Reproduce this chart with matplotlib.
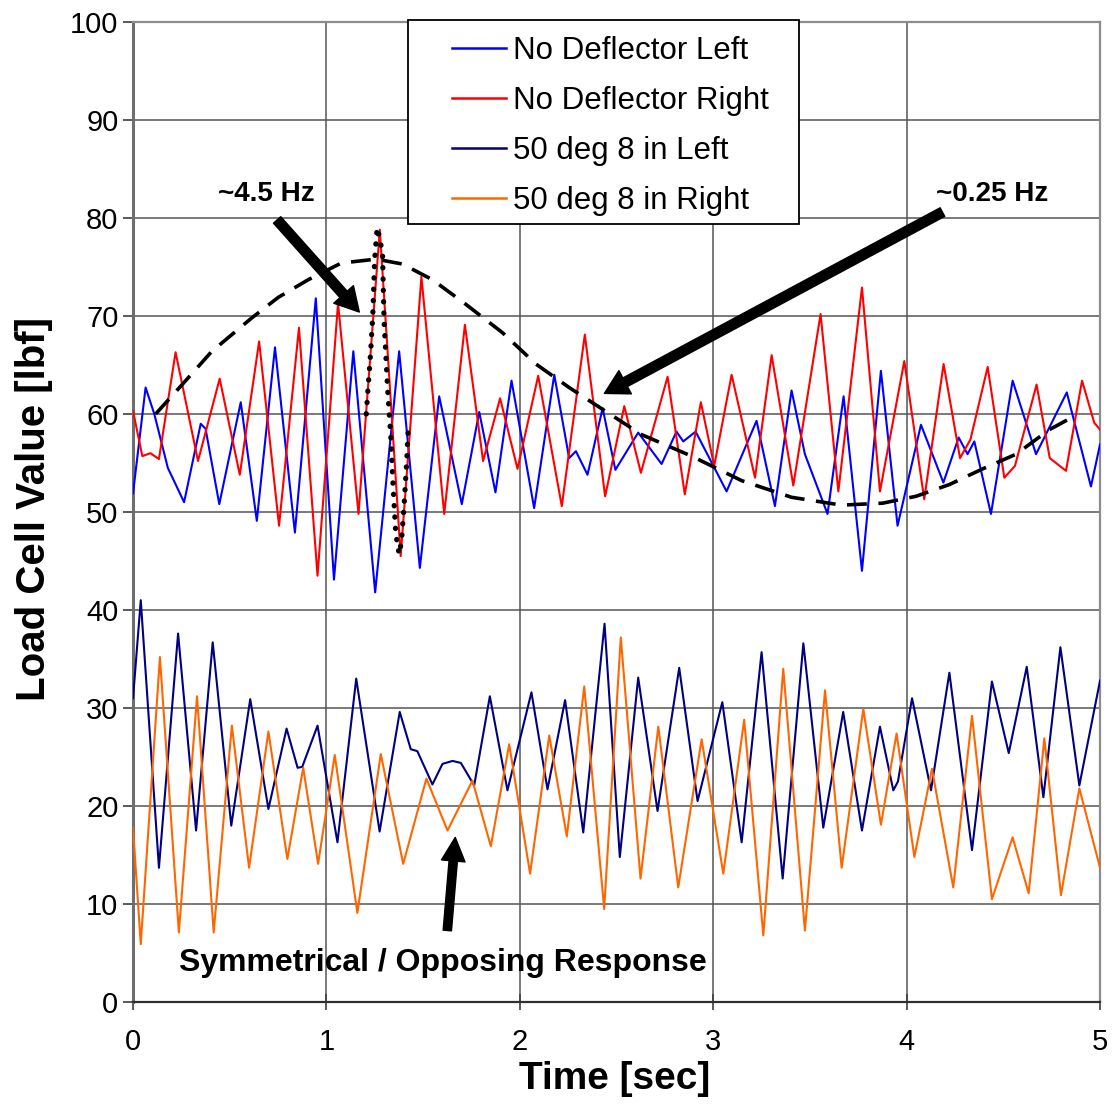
import numpy as np
import matplotlib
matplotlib.use("Agg")
from matplotlib import pyplot as plt
from matplotlib import font_manager
from matplotlib.patches import Rectangle

# load cell traces: time [s] and load [lbf] read at the turning points
t_nd_left = [0.0, 0.065, 0.11, 0.18, 0.264, 0.35, 0.375, 0.446, 0.557, 0.64, 0.734,
             0.837, 0.945, 1.039, 1.139, 1.252, 1.376, 1.483, 1.583, 1.70, 1.79,
             1.874, 1.957, 2.074, 2.178, 2.255, 2.29, 2.35, 2.428, 2.494, 2.612,
             2.733, 2.81, 2.845, 2.909, 3.069, 3.224, 3.319, 3.405, 3.474, 3.591,
             3.674, 3.769, 3.867, 3.953, 4.074, 4.19, 4.269, 4.315, 4.35, 4.436,
             4.548, 4.669, 4.755, 4.828, 4.953, 5.0]
v_nd_left = [51.9, 62.7, 60.0, 54.5, 51.0, 59.0, 58.5, 50.8, 61.2, 49.1, 66.8,
             47.9, 71.8, 43.1, 66.4, 41.8, 66.4, 44.3, 61.8, 50.8, 60.2,
             52.0, 63.4, 50.4, 64.0, 55.5, 56.2, 53.8, 60.6, 54.3, 58.1,
             54.9, 58.2, 57.2, 58.2, 52.1, 59.3, 50.6, 62.4, 55.9, 49.8,
             61.8, 44.0, 64.4, 48.6, 58.9, 53.0, 57.6, 55.9, 57.2, 49.8,
             63.4, 55.9, 59.3, 62.2, 52.6, 56.9]

t_nd_right = [0.0, 0.048, 0.09, 0.134, 0.22, 0.336, 0.448, 0.552, 0.652, 0.755,
              0.858, 0.954, 1.06, 1.166, 1.276, 1.384, 1.491, 1.609, 1.716, 1.81,
              1.898, 1.988, 2.095, 2.217, 2.336, 2.441, 2.54, 2.626, 2.764, 2.853,
              2.936, 3.005, 3.095, 3.216, 3.302, 3.414, 3.555, 3.647, 3.769, 3.862,
              3.988, 4.091, 4.191, 4.276, 4.33, 4.419, 4.505, 4.56, 4.672, 4.74,
              4.824, 4.907, 4.97, 5.0]
v_nd_right = [60.3, 55.7, 56.0, 55.4, 66.3, 55.2, 63.6, 53.8, 67.4, 48.6,
              68.8, 43.5, 71.3, 49.8, 78.8, 45.5, 74.0, 49.8, 69.1, 55.2,
              61.6, 54.4, 63.9, 50.6, 68.1, 51.6, 60.8, 54.0, 63.8, 51.8,
              61.2, 54.7, 64.0, 53.5, 66.0, 52.7, 70.2, 52.1, 72.9, 52.1,
              65.4, 51.3, 65.1, 55.5, 57.4, 64.8, 53.5, 54.7, 63.0, 55.5,
              54.2, 63.4, 59.1, 58.4]

t_50_left = [0.0, 0.04, 0.134, 0.233, 0.326, 0.412, 0.508, 0.606, 0.70, 0.794,
             0.851, 0.875, 0.954, 1.057, 1.154, 1.275, 1.379, 1.436, 1.47, 1.548,
             1.60, 1.652, 1.695, 1.764, 1.845, 1.936, 2.06, 2.143, 2.234, 2.328,
             2.438, 2.517, 2.612, 2.712, 2.824, 2.919, 3.047, 3.147, 3.25, 3.359,
             3.466, 3.569, 3.672, 3.769, 3.862, 3.931, 3.955, 4.028, 4.126, 4.221,
             4.338, 4.441, 4.528, 4.621, 4.707, 4.795, 4.893, 5.0]
v_50_left = [31.0, 41.0, 13.7, 37.6, 17.5, 36.7, 18.0, 30.9, 19.7, 27.9,
             23.9, 24.0, 28.2, 16.3, 33.0, 17.4, 29.6, 25.8, 25.6, 22.2,
             24.3, 24.6, 24.4, 22.1, 31.2, 21.6, 31.6, 21.7, 30.8, 17.3,
             38.6, 14.8, 33.1, 19.5, 34.1, 20.5, 30.6, 16.3, 35.7, 12.6,
             36.6, 17.8, 29.6, 17.5, 28.1, 21.6, 22.5, 31.0, 21.6, 33.6,
             15.5, 32.7, 25.4, 34.2, 20.9, 36.2, 22.1, 32.8]

t_50_right = [0.0, 0.04, 0.139, 0.237, 0.331, 0.417, 0.511, 0.60, 0.70, 0.798,
              0.88, 0.957, 1.043, 1.16, 1.281, 1.397, 1.517, 1.626, 1.755, 1.85,
              1.945, 2.053, 2.152, 2.243, 2.333, 2.436, 2.522, 2.624, 2.716, 2.819,
              2.94, 3.052, 3.16, 3.259, 3.362, 3.474, 3.578, 3.664, 3.776, 3.867,
              3.948, 4.04, 4.131, 4.241, 4.338, 4.441, 4.548, 4.631, 4.712, 4.798,
              4.893, 5.0]
v_50_right = [17.8, 5.9, 35.2, 7.1, 31.2, 7.1, 28.2, 13.7, 27.6, 14.6,
              23.9, 14.1, 25.2, 9.1, 25.3, 14.1, 22.8, 17.5, 22.6, 15.9,
              26.3, 13.1, 27.2, 16.9, 32.2, 9.5, 37.2, 12.6, 28.1, 11.7,
              26.8, 13.1, 28.8, 6.8, 34.0, 7.3, 31.8, 13.7, 29.9, 18.1,
              27.4, 14.8, 23.8, 11.7, 29.2, 10.5, 16.8, 11.1, 26.9, 10.9,
              21.8, 13.7]

# slow (~0.25 Hz) envelope sketched over the no-deflector traces
t_slow = [0.117, 0.254, 0.408, 0.614, 0.751, 0.906, 1.077, 1.257, 1.393, 1.548,
          1.72, 1.91, 2.083, 2.255, 2.457, 2.629, 2.888, 3.147, 3.405, 3.664,
          3.876, 4.048, 4.221, 4.393, 4.566, 4.738, 4.85]
v_slow = [60.0, 63.0, 66.4, 69.8, 71.9, 73.7, 75.4, 75.8, 75.3, 73.7,
          71.2, 68.3, 65.1, 62.7, 60.1, 57.9, 55.7, 53.2, 51.5, 50.7,
          50.9, 51.6, 52.8, 54.4, 55.9, 58.4, 59.6]

# one fast (~4.5 Hz) cycle traced around the largest peak
t_fast = [1.206, 1.214, 1.228, 1.24, 1.249, 1.262, 1.275, 1.29, 1.298, 1.316,
          1.333, 1.345, 1.359, 1.376, 1.388, 1.402, 1.416, 1.424]
v_fast = [60.0, 62.3, 66.1, 70.2, 75.6, 79.0, 78.0, 76.3, 69.5, 62.7,
          57.6, 52.5, 47.7, 45.7, 47.0, 50.8, 55.5, 59.1]

series = [
    (t_nd_left, v_nd_left, "#0000ff", "No Deflector Left"),
    (t_nd_right, v_nd_right, "#ff0000", "No Deflector Right"),
    (t_50_left, v_50_left, "#000080", "50 deg 8 in Left"),
    (t_50_right, v_50_right, "#ff6600", "50 deg 8 in Right"),
]

names = {f.name for f in font_manager.fontManager.ttflist}
base_font = "Liberation Sans" if "Liberation Sans" in names else "DejaVu Sans"
narrow = "Liberation Sans Narrow" in names
label_font = "Liberation Sans Narrow" if narrow else base_font

plt.rcParams["font.family"] = [base_font, "DejaVu Sans"]

fig = plt.figure(figsize=(11.16, 11.14), dpi=100)
ax = fig.add_axes([0.1192, 0.1005, 0.8665, 0.8798])

for t, v, c, name in series:
    ax.plot(t, v, color=c, lw=1.5, label=name, zorder=3)

ax.plot(t_slow, v_slow, color="black", lw=2.6, dashes=(5.5, 3.2), zorder=4)
ax.plot(t_fast, v_fast, color="black", lw=3.8, dashes=(0.05, 2.1),
        dash_capstyle="round", zorder=4)

ax.set_xlim(0, 5)
ax.set_ylim(0, 100)
ax.set_xticks(np.arange(0, 6, 1))
ax.set_yticks(np.arange(0, 101, 10))
ax.grid(True, color="#555555", lw=1.1, zorder=0)
ax.set_axisbelow(True)

for side in ["top", "right"]:
    ax.spines[side].set_color("#8c8c8c")
    ax.spines[side].set_linewidth(1.6)
ax.spines["left"].set_color("#6e6e6e")
ax.spines["left"].set_linewidth(2.2)
ax.spines["bottom"].set_color("#303030")
ax.spines["bottom"].set_linewidth(1.6)

ax.tick_params(axis="y", direction="out", length=7, width=1.2, color="#404040",
               labelsize=21, pad=3.5)
ax.tick_params(axis="x", direction="inout", length=11, width=1.2, color="#404040",
               labelsize=21, pad=13)

if narrow:
    ax.set_xlabel("Time [sec]", fontsize=34, fontweight="bold", family=label_font)
    ax.set_ylabel("Load Cell Value [lbf]", fontsize=35, fontweight="bold",
                  family=label_font)
else:
    ax.set_xlabel("Time [sec]", fontsize=28, fontweight="bold")
    ax.set_ylabel("Load Cell Value [lbf]", fontsize=29, fontweight="bold")
ax.xaxis.set_label_coords(0.498, -0.06)
ax.yaxis.set_label_coords(-0.083, 0.503)

# legend: square box drawn separately so the entries can sit inset from its left edge
ax.add_patch(Rectangle((0.2844, 0.7939), 0.4043, 0.2081, transform=ax.transAxes,
                       facecolor="white", edgecolor="black", lw=1.3, zorder=6,
                       clip_on=False))
leg = ax.legend(loc="upper left", bbox_to_anchor=(0.3299, 0.986), borderaxespad=0,
                fontsize=22.5, frameon=False, handlelength=1.73, handletextpad=0.22,
                labelspacing=0.64, borderpad=0)
leg.set_zorder(7)
for h in leg.get_lines():
    h.set_linewidth(1.8)

# annotation arrows and captions
arrow_kw = dict(facecolor="black", edgecolor="black", width=7, headwidth=19,
                headlength=17, shrink=0)
ax.annotate("", xy=(1.17, 70.4), xytext=(0.745, 79.8), arrowprops=arrow_kw, zorder=5)
ax.annotate("", xy=(2.437, 62.1), xytext=(4.185, 80.6), arrowprops=arrow_kw, zorder=5)
ax.annotate("", xy=(1.666, 16.8), xytext=(1.625, 7.3),
            arrowprops=dict(arrow_kw, width=6, headwidth=17), zorder=5)

ax.text(0.688, 82.45, "~4.5 Hz", fontsize=20, fontweight="bold",
        ha="center", va="center", zorder=6)
ax.text(4.444, 82.45, "~0.25 Hz", fontsize=20, fontweight="bold",
        ha="center", va="center", zorder=6)
if narrow:
    ax.text(1.6, 4.0, "Symmetrical / Opposing Response", fontsize=28,
            fontweight="bold", family=label_font, ha="center", va="center", zorder=6)
else:
    ax.text(1.6, 4.0, "Symmetrical / Opposing Response", fontsize=23,
            fontweight="bold", ha="center", va="center", zorder=6)

fig.savefig("out.png", dpi=100, facecolor="white")
